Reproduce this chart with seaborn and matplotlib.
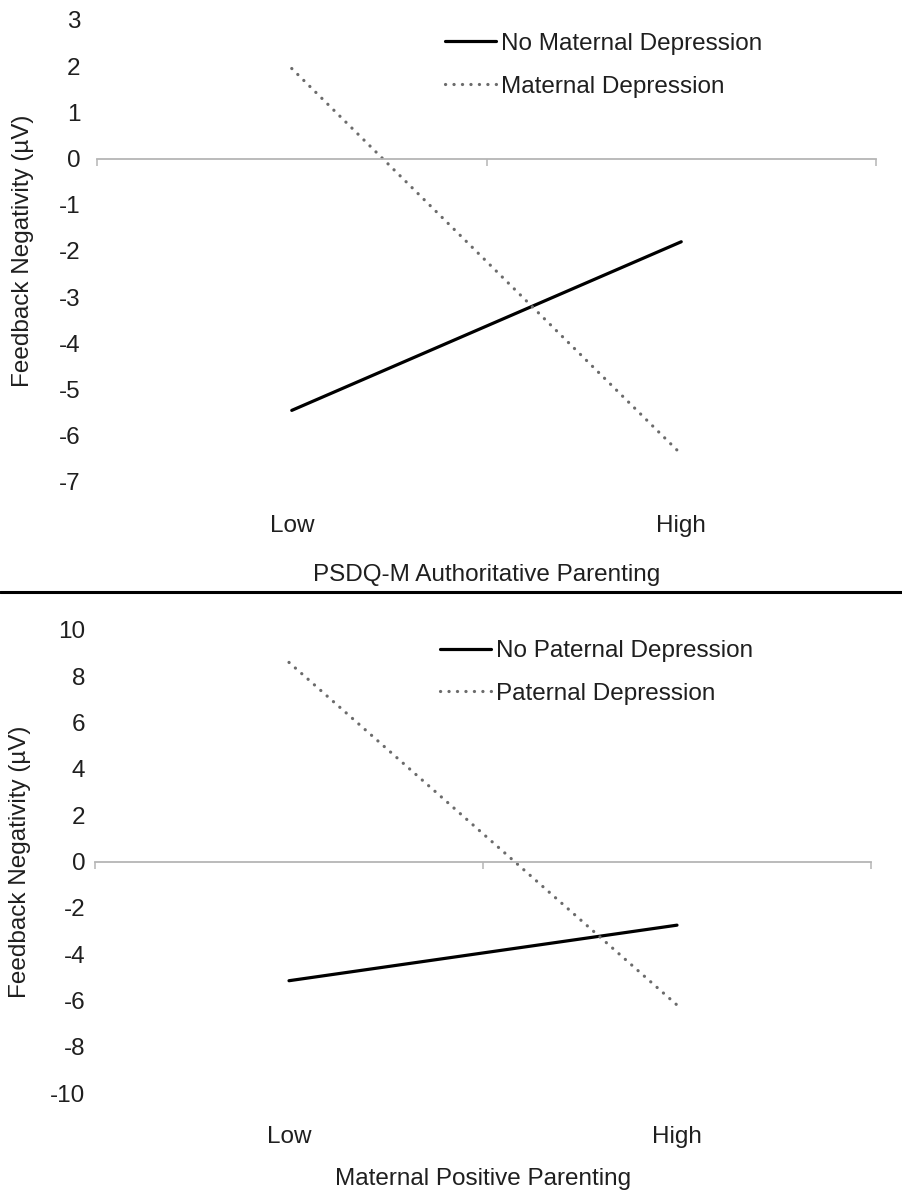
import matplotlib
matplotlib.use("Agg")
import matplotlib.pyplot as plt
import seaborn as sns
import pandas as pd
from matplotlib.lines import Line2D

# ---------------- data ----------------
levels = ["Low", "High"]

top_series = ["No Maternal Depression", "Maternal Depression"]
top_no_dep = [-5.45, -1.8]
top_dep = [1.95, -6.4]
top_yticks = [3, 2, 1, 0, -1, -2, -3, -4, -5, -6, -7]
top_xlabel = "PSDQ-M Authoritative Parenting"

bot_series = ["No Paternal Depression", "Paternal Depression"]
bot_no_dep = [-5.15, -2.75]
bot_dep = [8.6, -6.2]
bot_yticks = [10, 8, 6, 4, 2, 0, -2, -4, -6, -8, -10]
bot_xlabel = "Maternal Positive Parenting"

ylabel = "Feedback Negativity (µV)"

# ---------------- style ----------------
sns.set_style("white")
plt.rcParams["font.family"] = ["Liberation Sans", "DejaVu Sans"]
plt.rcParams["axes.unicode_minus"] = False
FS = 17.5
TXT = "#1f1f1f"
GRID = "#b5b5b5"
DOT = "#6b6b6b"

W, H = 902, 1192
fig = plt.figure(figsize=(W / 100, H / 100), dpi=100)


def panel(rect, series, no_vals, dep_vals, yticks, xlabel, leg_anchor, ypad,
          ylpad, xlpad):
    ax = fig.add_axes(rect)
    df = pd.DataFrame({
        "level": levels * 2,
        "value": list(no_vals) + list(dep_vals),
        "group": [series[0]] * 2 + [series[1]] * 2,
    })
    sns.lineplot(data=df, x="level", y="value", hue="group", style="group",
                 palette={series[0]: "black", series[1]: DOT},
                 dashes={series[0]: "", series[1]: (0.05, 2.6)},
                 linewidth=2.3, sort=False, ax=ax, legend=False)
    for ln in ax.lines:
        ln.set_dash_capstyle("round")
        ln.set_solid_capstyle("round")
    ax.set_xlim(-0.5, 1.5)
    ax.set_ylim(min(yticks), max(yticks))
    ax.set_yticks(yticks)
    ax.tick_params(axis="y", length=0, pad=ypad, labelsize=FS, labelcolor=TXT)
    for s in ("top", "right", "left"):
        ax.spines[s].set_visible(False)
    ax.spines["bottom"].set_position(("data", 0))
    ax.spines["bottom"].set_color(GRID)
    ax.spines["bottom"].set_linewidth(1.3)
    ax.set_xticks([-0.5, 0.5, 1.5])
    ax.tick_params(axis="x", direction="out", length=5, width=1.1,
                   color=GRID, labelbottom=False, bottom=True)
    ax.set_xlabel("")
    ax.set_ylabel(ylabel, fontsize=FS, color=TXT, labelpad=ylpad)

    sec = ax.secondary_xaxis("bottom")
    sec.set_xticks([0, 1], labels=levels)
    sec.tick_params(length=0, pad=24, labelsize=FS, labelcolor=TXT)
    for s in sec.spines.values():
        s.set_visible(False)
    sec.set_xlabel(xlabel, fontsize=FS, color=TXT, labelpad=xlpad)

    handles = [Line2D([], [], color="black", lw=2.3),
               Line2D([], [], color=DOT, lw=2.3, dashes=(0.05, 2.6),
                      dash_capstyle="round")]
    ax.legend(handles, series, loc="upper left", bbox_to_anchor=leg_anchor,
              frameon=False, fontsize=FS, handlelength=2.1, handletextpad=0.2,
              labelspacing=0.85, borderpad=0, borderaxespad=0,
              labelcolor=TXT)
    return ax


panel([97 / W, 1 - 482 / H, 779 / W, 462 / H], top_series, top_no_dep, top_dep,
      top_yticks, top_xlabel, (0.447, 0.972), 12, 18, 19)
panel([95 / W, 1 - 1093 / H, 776 / W, 463 / H], bot_series, bot_no_dep, bot_dep,
      bot_yticks, bot_xlabel, (0.445, 0.978), 7, 14, 14)

fig.add_artist(Line2D([0, 1], [1 - 592 / H] * 2, color="black", lw=2.2,
                      transform=fig.transFigure))

fig.savefig("out.png", dpi=100)
